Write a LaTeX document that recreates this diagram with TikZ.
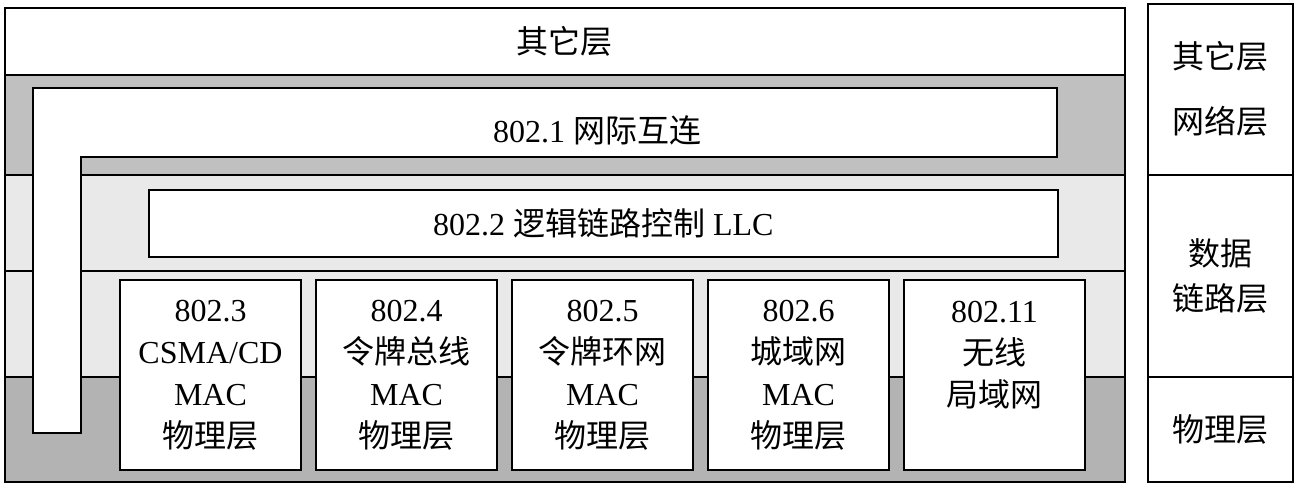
\documentclass[tikz,border=0pt]{standalone}
\usepackage{fontspec}
\setmainfont{Liberation Serif}
\newfontfamily\cjk{Noto Sans CJK SC}
\usetikzlibrary{positioning}
\definecolor{band gray}{HTML}{C0C0C0}
\definecolor{band light}{HTML}{E9E9E9}
\definecolor{band dark}{HTML}{B3B3B3}
\tikzstyle{band}=[
        draw,
        line width = 1.6pt,
        anchor = north west,
        minimum width = 1120pt,
        inner sep = 0pt
    ]
\tikzstyle{side cell}=[
    draw,
    fill = white,
    line width = 1.6pt,
    anchor = north west,
    minimum width = 145pt,
    align = center,
    inner sep = 0pt
]
\tikzstyle{mac box}=[
    draw,
    fill = white,
    line width = 1.6pt,
    minimum width = 181pt,
    minimum height = 190pt,
    align = center,
    inner sep = 0pt
]

\begin{document}
\begin{tikzpicture}[x=1pt, y=-1pt, node distance={196pt},
        font=\fontsize{32}{42}\selectfont]
        \useasboundingbox (0,0) rectangle (1300,492);

        % layer bands
        \node[band, fill = white, minimum height = 67pt] (other) at (4,7) {\cjk 其它层};
        \node[band, fill = band gray, minimum height = 100pt] (net) at (4,74) {};
        \node[band, fill = band light, minimum height = 96pt] (llc band) at (4,174) {};
        \node[band, fill = band light, minimum height = 106pt] (mac band) at (4,270) {};
        \node[band, fill = band dark, minimum height = 105pt] (phy band) at (4,376) {};

        % 802.1
        \draw[line width = 1.6pt, fill = white] (33,88) -- (1057,88) -- (1057,157)
            -- (81,157) -- (81,433) -- (33,433) -- cycle;
        \node (inter) at (597,130) {802.1 {\cjk 网际互连}};

        % 802.2
        \node[draw, fill = white, line width = 1.6pt, anchor = north west,
            minimum width = 909pt, minimum height = 67pt, inner sep = 0pt]
            (llc) at (148,189) {802.2 {\cjk 逻辑链路控制} LLC};

        % MAC
        \node[mac box] (m3) at (210.5,375) {802.3\\CSMA/CD\\MAC\\{\cjk 物理层}};
        \node[mac box] (m4) [right of = m3] {802.4\\{\cjk 令牌总线}\\MAC\\{\cjk 物理层}};
        \node[mac box] (m5) [right of = m4] {802.5\\{\cjk 令牌环网}\\MAC\\{\cjk 物理层}};
        \node[mac box] (m6) [right of = m5] {802.6\\{\cjk 城域网}\\MAC\\{\cjk 物理层}};
        \node[mac box] (m11) [right of = m6] {802.11\\{\cjk 无线}\\{\cjk 局域网}\\\mbox{}};

        % OSI
        \node[side cell, minimum height = 171pt] (osi up) at (1147,3)
            {{\cjk 其它层}\\[23pt]{\cjk 网络层}};
        \node[side cell, minimum height = 202pt] (osi dl) at (1147,174)
            {{\cjk 数据}\\[3pt]{\cjk 链路层}};
        \node[side cell, minimum height = 105pt] (osi phy) at (1147,376) {\cjk 物理层};

    \end{tikzpicture}
\end{document}
